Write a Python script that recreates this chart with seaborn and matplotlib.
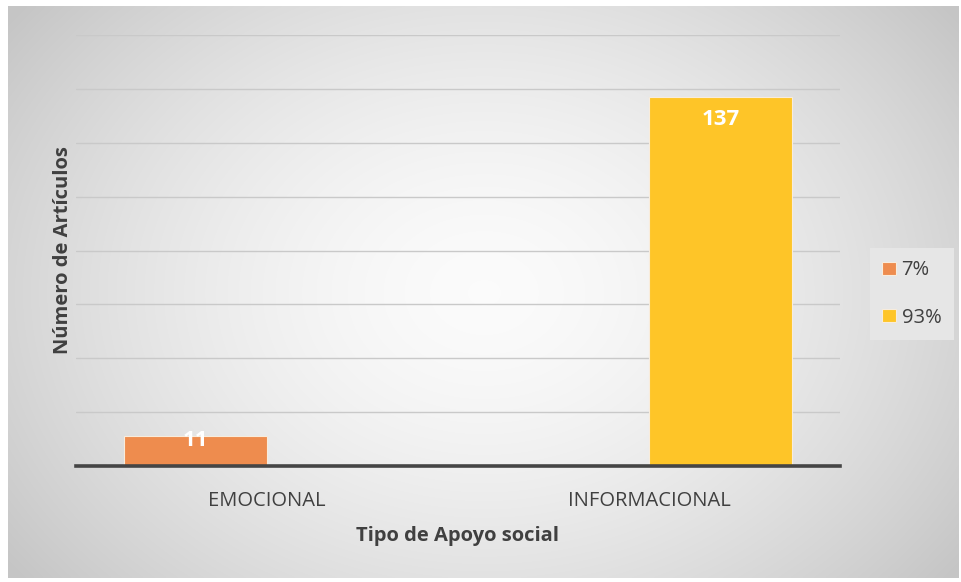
import numpy as np
import pandas as pd
import matplotlib
matplotlib.use("Agg")
import matplotlib.pyplot as plt
import seaborn as sns

categories = ["EMOCIONAL", "INFORMACIONAL"]
series = ["7%", "93%"]
values = [11, 137]
colors = ["#EE8C4E", "#FEC528"]

sns.set_theme(style="white")
plt.rcParams["font.family"] = ["Open Sans", "DejaVu Sans"]

W, H = 961, 582
fig = plt.figure(figsize=(W / 100, H / 100), dpi=100)
fig.patch.set_facecolor("white")

# background panel with radial gradient
bg = fig.add_axes([8 / W, 4 / H, (958 - 8) / W, (578 - 6) / H], zorder=-10)
ny, nx = 300, 500
yy, xx = np.mgrid[0:ny, 0:nx]
cx, cy = 0.50 * nx, 0.50 * ny
r = np.sqrt(((xx - cx) / (0.62 * nx)) ** 2 + ((yy - cy) / (0.80 * ny)) ** 2)
r = np.clip(r, 0, 1)
val = 0.985 - (0.985 - 0.775) * r ** 1.6
img = np.dstack([val, val, val])
bg.imshow(img, aspect="auto", extent=[0, 1, 0, 1], interpolation="bilinear")
bg.set_axis_off()

ax = fig.add_axes([76 / W, 1 - 466 / H, (840 - 76) / W, (466 - 35) / H])
ax.set_facecolor("none")

df = pd.DataFrame({"Tipo": categories, "Serie": series, "Valor": values})
sns.barplot(data=df, x="Tipo", y="Valor", hue="Serie", order=categories,
            hue_order=series, palette=colors, saturation=1, width=0.75, dodge=True,
            edgecolor="#f8ecdc", linewidth=0.8, ax=ax, legend=True, zorder=3)

ax.set_ylim(0, 160)
ax.set_xlim(-0.5, 1.5)
ax.set_yticks(np.arange(0, 161, 20))
ax.yaxis.grid(True, color="#c9c9c9", linewidth=1.0, zorder=0)
ax.set_axisbelow(True)
ax.tick_params(axis="y", left=False, labelleft=False)
ax.tick_params(axis="x", bottom=False, labelsize=14.5, labelcolor="#404040", pad=12)
for s in ["top", "right", "left"]:
    ax.spines[s].set_visible(False)
ax.spines["bottom"].set_color("#454545")
ax.spines["bottom"].set_linewidth(2.6)
ax.spines["bottom"].set_zorder(5)

for cont in ax.containers:
    for bar in cont:
        h = bar.get_height()
        if np.isnan(h) or h == 0:
            continue
        x = bar.get_x() + bar.get_width() / 2
        if h > 30:
            ax.annotate(f"{int(round(h))}", (x, h), xytext=(0, -9), textcoords="offset points",
                        ha="center", va="top", color="white", fontsize=16,
                        fontweight="bold", zorder=6)
        else:
            ax.annotate(f"{int(round(h))}", (x, h), xytext=(0, -3), textcoords="offset points",
                        ha="center", va="center", color="white", fontsize=16,
                        fontweight="bold", zorder=6)

ax.set_xlabel("Tipo de Apoyo social", fontsize=14.5, fontweight="bold", color="#404040", labelpad=11)
ax.set_ylabel("Número de Artículos", fontsize=14.5, fontweight="bold", color="#404040", labelpad=2)

leg = ax.legend(loc="center left", bbox_to_anchor=(870 / W, 1 - 294 / H), bbox_transform=fig.transFigure,
                frameon=True, fontsize=14.5, handlelength=0.65, handleheight=0.65,
                labelspacing=1.35, handletextpad=0.3, borderpad=0.62, borderaxespad=0)
leg.get_frame().set_facecolor("#e6e6e6")
leg.get_frame().set_edgecolor("none")
leg.get_frame().set_alpha(1)
leg.get_frame().set_boxstyle("square", pad=0)
for t in leg.get_texts():
    t.set_color("#404040")

fig.savefig("out.png", dpi=100)
